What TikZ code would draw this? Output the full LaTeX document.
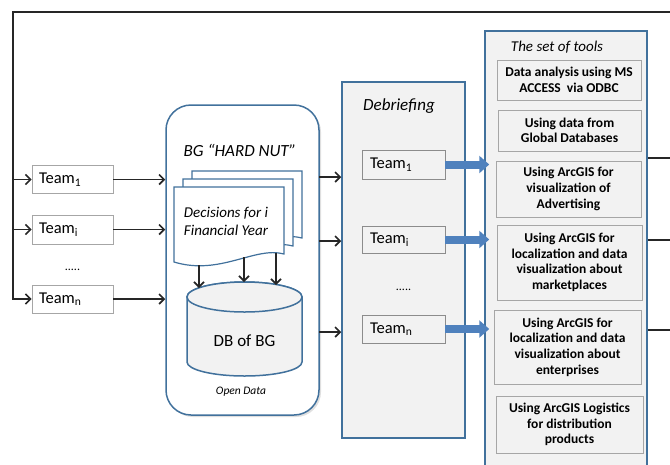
\documentclass[tikz,border=0pt]{standalone}
\usepackage{fontspec}
\setmainfont{Carlito}
\usepackage{tikz}
\usetikzlibrary{positioning, arrows.meta, calc, shadows}

\definecolor{panelblue}{RGB}{65,113,156}
\definecolor{arrowblue}{RGB}{79,129,189}
\definecolor{panelfill}{RGB}{242,242,242}
\definecolor{boxgray}{RGB}{166,166,166}

\begin{document}
\begin{tikzpicture}[
    x=1pt, y=-1pt,
    flow/.style={-{Straight Barb[length=5pt,width=10pt]}, line width=1.6pt, black!85},
    teambox/.style={draw=boxgray, fill=white, line width=0.8pt, minimum height=28pt,
        inner xsep=7pt, inner ysep=0pt, text width=67pt, align=left, font=\fontsize{16.5}{18}\selectfont},
    debteam/.style={teambox, draw=black!45, fill=panelfill, inner xsep=8pt},
    panel/.style={draw=panelblue, line width=1.5pt, fill=panelfill, inner sep=0pt},
    toolbox/.style={draw=boxgray, fill=panelfill, line width=0.8pt, align=center,
        inner sep=0pt, font=\bfseries\fontsize{13.5}{15.6}\selectfont},
    heading/.style={font=\itshape\fontsize{#1}{#1}\selectfont},
    page/.style={draw=panelblue, line width=1.2pt, fill=white},
    dbshape/.style={draw=panelblue, line width=1.5pt, fill=panelfill},
    blockarrow/.style={line width=8pt, arrowblue, -{Triangle[length=10pt,width=17pt]}}
]
    \useasboundingbox (0,0) rectangle (670,464);

    \def\teamx{72.5}  % teams column
    \def\bgx{242.5}   % BG "HARD NUT"
    \def\debx{403.5}  % debriefing
    \def\toolx{569}   % set of tools

    % teams
    \node[teambox] (t1) at (\teamx,179.5) {Team\textsubscript{1}};
    \node[teambox, minimum height=29pt] (ti) at (\teamx,229.5) {Team\textsubscript{i}};
    \node[teambox] (tn) at (\teamx,299) {Team\textsubscript{n}};
    \node[font=\fontsize{12}{12}\selectfont] (tdots) at (\teamx,270) {.....};

    % BG "HARD NUT"
    \node[draw=panelblue, line width=1.5pt, fill=white, rounded corners=25pt,
        minimum width=153pt, minimum height=310pt,
        drop shadow={opacity=0.25, shadow xshift=2pt, shadow yshift=-2pt}] (bg) at (\bgx,260) {};
    \node[heading=17] (bgtitle) at (240,150) {BG “HARD NUT”};

    % stack of decision pages
    \foreach \dx/\dy in {18/16, 9/8, 0/0}
        \draw[page] (174+\dx,187-\dy) -- (284+\dx,187-\dy) -- (284+\dx,254-\dy)
            .. controls (255+\dx,246-\dy) and (220+\dx,276-\dy) .. (174+\dx,262-\dy) -- cycle;
    \node[font=\itshape\fontsize{15}{18}\selectfont, align=left] (decisions) at (226,221)
        {Decisions for i\\Financial Year};

    % database
    \draw[dbshape] (187,297) -- (187,362)
        arc[start angle=180, end angle=360, x radius=57.5pt, y radius=14pt]
        -- (302,297) arc[start angle=0, end angle=180, x radius=57.5pt, y radius=15pt] -- cycle;
    \draw[dbshape] (244.5,297) ellipse [x radius=57.5pt, y radius=15pt];
    \node[font=\fontsize{17}{17}\selectfont] (db) at (244.5,341) {DB of BG};
    \node[heading=11.5] (opendata) at (241,392) {Open Data};

    \foreach \i/\x/\ys/\ye in {1/199/265/288, 2/244/257/282, 3/276/253/285} {
        \coordinate (doc\i) at (\x,\ys);
        \coordinate (dbin\i) at (\x,\ye);
        \draw[flow] (doc\i) -- (dbin\i);
    }

    % debriefing
    \node[panel, minimum width=123pt, minimum height=356pt] (debrief) at (\debx,260) {};
    \node[heading=17] (debtitle) at (399,106) {Debriefing};
    \node[debteam, minimum height=29pt] (d1) at (\debx,164.5) {Team\textsubscript{1}};
    \node[debteam, minimum height=27pt] (di) at (\debx,239.5) {Team\textsubscript{i}};
    \node[debteam] (dn) at (\debx,329) {Team\textsubscript{n}};
    \node[font=\fontsize{12}{12}\selectfont] (ddots) at (\debx,290) {.....};

    % set of tools
    \node[panel, minimum width=162pt, minimum height=444pt] (tools) at (566,253) {};
    \node[heading=15] (toolstitle) at (557,47) {The set of tools};
    \node[toolbox, minimum width=144pt, minimum height=40pt] (tool1) at (\toolx,80)
        {Data analysis using MS\\ACCESS\ \ via ODBC};
    \node[toolbox, minimum width=143pt, minimum height=41pt] (tool2) at (569.5,130.5)
        {Using data from\\Global Databases};
    \node[toolbox, minimum width=145pt, minimum height=56pt] (tool3) at (568.5,189)
        {Using ArcGIS for\\visualization of\\Advertising};
    \node[toolbox, minimum width=145pt, minimum height=75pt] (tool4) at (569.5,262.5)
        {Using ArcGIS for\\localization and data\\visualization about\\marketplaces};
    \node[toolbox, minimum width=147pt, minimum height=74pt] (tool5) at (567.5,347)
        {Using ArcGIS for\\localization and data\\visualization about\\enterprises};
    \node[toolbox, minimum width=147pt, minimum height=57pt] (tool6) at (569.5,424.5)
        {Using ArcGIS Logistics\\for distribution\\products};

    % feedback loop
    \coordinate (loopR) at (670,12);
    \coordinate (loopL) at (13,12);
    \draw[flow] (loopR) -- (loopL) -- (loopL |- tn.west) -- (tn.west);
    \foreach \t in {t1,ti}
        \draw[flow] (loopL |- \t.west) -- (\t.west);

    % teams into the game
    \foreach \t in {t1,ti,tn}
        \draw[flow] (\t.east) -- (\t.east -| bg.west);

    % game into debriefing
    \foreach \i/\y in {1/177, 2/241, 3/332} {
        \coordinate (bgout\i) at (319,\y);
        \draw[flow] (bgout\i) -- (bgout\i -| debrief.west);
    }

    % debriefing into tools
    \foreach \t in {d1,di,dn}
        \draw[blockarrow] (\t.east) -- ($(\t.east -| tools.west)+(5,0)$);

    % tools out (cut at the edge)
    \foreach \i/\y in {1/158, 2/240, 3/330} {
        \coordinate (out\i) at (670,\y);
        \draw[line width=1.6pt, black!85] (tools.east |- out\i) -- (out\i);
    }
\end{tikzpicture}
\end{document}
